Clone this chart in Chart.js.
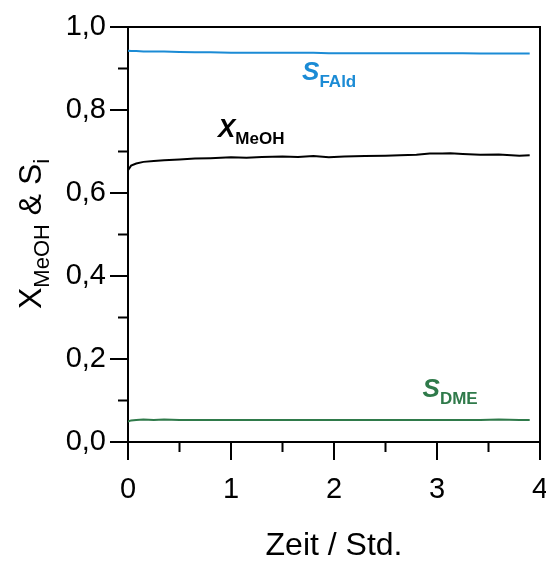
<!DOCTYPE html>
<html>
<head>
<meta charset="utf-8">
<script src="https://cdn.jsdelivr.net/npm/chart.js@4.4.1/dist/chart.umd.min.js"></script>
<style>
  body { margin: 0; background: #fff; }
  canvas { display: block; }
</style>
</head>
<body>
<canvas id="chart" width="546" height="561"></canvas>
<script>
// time on stream in hours
const time = [0, 0.03, 0.08, 0.15, 0.25, 0.35, 0.5, 0.65, 0.8, 1.0, 1.15, 1.3, 1.5, 1.65, 1.8, 1.95, 2.1, 2.3, 2.5, 2.64, 2.8, 2.93, 3.05, 3.13, 3.25, 3.42, 3.6, 3.8, 3.9];
const xMeOH = [0.655, 0.666, 0.671, 0.675, 0.677, 0.679, 0.681, 0.683, 0.684, 0.686, 0.685, 0.687, 0.688, 0.687, 0.689, 0.686, 0.688, 0.689, 0.690, 0.691, 0.692, 0.695, 0.695, 0.696, 0.694, 0.692, 0.693, 0.690, 0.691];
const sFAld = [0.943, 0.942, 0.942, 0.941, 0.941, 0.941, 0.940, 0.939, 0.939, 0.938, 0.938, 0.938, 0.938, 0.938, 0.938, 0.937, 0.937, 0.937, 0.937, 0.937, 0.937, 0.937, 0.937, 0.937, 0.937, 0.936, 0.936, 0.936, 0.936];
const sDME = [0.049, 0.052, 0.053, 0.054, 0.053, 0.054, 0.053, 0.053, 0.053, 0.053, 0.053, 0.053, 0.053, 0.053, 0.053, 0.053, 0.053, 0.053, 0.053, 0.053, 0.053, 0.053, 0.053, 0.053, 0.053, 0.053, 0.054, 0.053, 0.053];

const xTicks = [0, 1, 2, 3, 4];
const yTicks = [0, 0.2, 0.4, 0.6, 0.8, 1.0];

// series labels: [main letter, subscript, colour, x, y]
const seriesLabels = [
  ['S', 'FAld', '#1b8bd5', 1.69, 0.872],
  ['X', 'MeOH', '#000000', 0.874, 0.735],
  ['S', 'DME', '#2f7a4a', 2.86, 0.108]
];

const FONT = '"Liberation Sans", Arial, sans-serif';
const pts = arr => time.map((t, i) => ({ x: t, y: arr[i] }));

const frameAndLabels = {
  id: 'frameAndLabels',
  afterDraw(chart) {
    const { ctx, chartArea: a, scales: { x, y } } = chart;
    ctx.save();
    ctx.strokeStyle = '#000';
    ctx.lineWidth = 2;
    // top and right frame
    ctx.beginPath();
    ctx.moveTo(a.left, a.top);
    ctx.lineTo(a.right, a.top);
    ctx.lineTo(a.right, a.bottom);
    ctx.stroke();
    // minor ticks
    ctx.beginPath();
    for (let v = 0.5; v < 4; v += 1) {
      const px = x.getPixelForValue(v);
      ctx.moveTo(px, a.bottom);
      ctx.lineTo(px, a.bottom + 10);
    }
    for (let v = 0.1; v < 1; v += 0.2) {
      const py = y.getPixelForValue(v);
      ctx.moveTo(a.left, py);
      ctx.lineTo(a.left - 10, py);
    }
    ctx.stroke();

    // series labels
    ctx.textBaseline = 'alphabetic';
    seriesLabels.forEach(([main, sub, col, lx, ly]) => {
      const px = x.getPixelForValue(lx);
      const py = y.getPixelForValue(ly);
      ctx.fillStyle = col;
      ctx.font = 'italic bold 26px ' + FONT;
      ctx.fillText(main, px, py);
      const w = ctx.measureText(main).width;
      ctx.font = 'bold 17px ' + FONT;
      ctx.fillText(sub, px + w, py + 7);
    });

    // y axis title with subscripts
    ctx.translate(41, 309);
    ctx.rotate(-Math.PI / 2);
    ctx.fillStyle = '#000';
    let cx = 0;
    const parts = [['X', 32, 0], ['MeOH', 22, 8], [' & S', 32, 0], ['i', 22, 8]];
    parts.forEach(([t, size, dy]) => {
      ctx.font = size + 'px ' + FONT;
      ctx.fillText(t, cx, dy);
      cx += ctx.measureText(t).width;
    });
    ctx.restore();
  }
};

new Chart(document.getElementById('chart'), {
  type: 'line',
  data: {
    datasets: [
      { data: pts(sFAld), borderColor: '#1b8bd5', borderWidth: 2, pointRadius: 0, tension: 0 },
      { data: pts(xMeOH), borderColor: '#000000', borderWidth: 2, pointRadius: 0, tension: 0 },
      { data: pts(sDME), borderColor: '#2f7a4a', borderWidth: 2, pointRadius: 0, tension: 0 }
    ]
  },
  options: {
    responsive: false,
    animation: false,
    layout: { padding: { top: 27, right: 6, bottom: 0, left: 0 } },
    plugins: { legend: { display: false }, tooltip: { enabled: false } },
    scales: {
      x: {
        type: 'linear',
        min: 0,
        max: 4,
        afterBuildTicks: s => { s.ticks = xTicks.map(v => ({ value: v })); },
        afterFit: s => { s.height = 119; s.paddingLeft = 0; s.paddingRight = 0; },
        grid: { drawOnChartArea: false, tickLength: 18, color: '#000', lineWidth: 2 },
        border: { display: true, color: '#000', width: 2 },
        ticks: { color: '#000', font: { size: 29, family: FONT }, padding: 13, maxRotation: 0 },
        title: { display: true, text: 'Zeit / Std.', color: '#000', font: { size: 32, family: FONT }, padding: { top: 0, bottom: -4 } }
      },
      y: {
        min: 0,
        max: 1,
        afterBuildTicks: s => { s.ticks = yTicks.map(v => ({ value: v })); },
        afterFit: s => { s.width = 128; s.paddingTop = 0; s.paddingBottom = 0; },
        grid: { drawOnChartArea: false, tickLength: 18, color: '#000', lineWidth: 2 },
        border: { display: true, color: '#000', width: 2 },
        ticks: {
          color: '#000',
          font: { size: 29, family: FONT },
          padding: 4,
          callback: v => v.toFixed(1).replace('.', ',')
        }
      }
    }
  },
  plugins: [frameAndLabels]
});
</script>
</body>
</html>
